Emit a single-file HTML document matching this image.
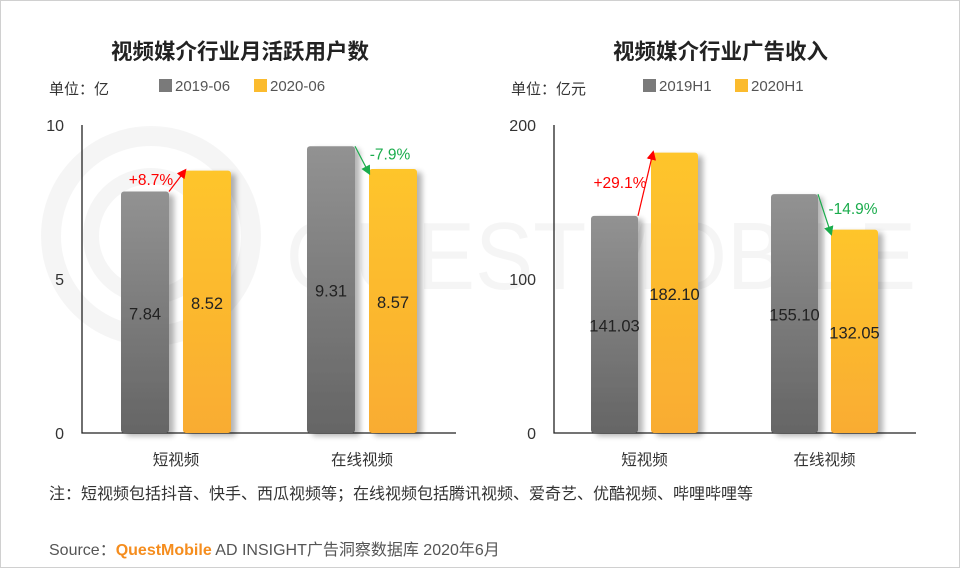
<!DOCTYPE html>
<html><head><meta charset="utf-8"><style>
body{margin:0;background:#fff;}
#wrap{position:relative;width:958px;height:566px;border:1px solid #d0d0d0;overflow:hidden;font-family:"Liberation Sans","Noto Sans CJK SC",sans-serif;}
.t{position:absolute;white-space:nowrap;}
</style></head><body>
<div id="wrap">
<svg id="svg" width="958" height="566" style="position:absolute;left:0;top:0">
<defs>
<linearGradient id="gg" x1="0" y1="0" x2="0" y2="1"><stop offset="0" stop-color="#929292"/><stop offset="1" stop-color="#656565"/></linearGradient>
<linearGradient id="gy" x1="0" y1="0" x2="0" y2="1"><stop offset="0" stop-color="#fec52c"/><stop offset="1" stop-color="#f9ac31"/></linearGradient>
<filter id="sh" x="-20%" y="-5%" width="150%" height="110%"><feGaussianBlur in="SourceAlpha" stdDeviation="3"/><feOffset dx="5" dy="3"/><feComponentTransfer><feFuncA type="linear" slope="0.3"/></feComponentTransfer><feMerge><feMergeNode/><feMergeNode in="SourceGraphic"/></feMerge></filter>
<marker id="ar" markerWidth="8" markerHeight="8" refX="6" refY="4" orient="auto"><path d="M0,0L8,4L0,8z" fill="#f00"/></marker>
<marker id="ag" markerWidth="8" markerHeight="8" refX="6" refY="4" orient="auto"><path d="M0,0L8,4L0,8z" fill="#1aac4c"/></marker>
</defs>
<g opacity="0.035" fill="none" stroke="#000">
<circle cx="150" cy="235" r="100" stroke-width="20"/>
<circle cx="150" cy="235" r="60" stroke-width="16"/>
<text x="285" y="288" font-size="96" fill="#000" stroke="none" font-family="Liberation Sans" textLength="630" lengthAdjust="spacingAndGlyphs">QUESTMOBILE</text>
</g>
</svg>
<div class="t" style="left:110px;top:34px;font-size:21.5px;font-weight:bold;color:#222">视频媒介行业月活跃用户数</div>
<div class="t" style="left:612px;top:34px;font-size:21.5px;font-weight:bold;color:#222">视频媒介行业广告收入</div>
<div class="t" style="left:48px;top:77px;font-size:15px;color:#333">单位：亿</div>
<div class="t" style="left:158px;top:77px;font-size:15px;color:#555"><span style="display:inline-block;width:13px;height:13px;background:#7a7a7a;vertical-align:-1px;margin-right:3px"></span>2019-06</div>
<div class="t" style="left:253px;top:77px;font-size:15px;color:#555"><span style="display:inline-block;width:13px;height:13px;background:#fbbb2e;vertical-align:-1px;margin-right:3px"></span>2020-06</div>
<div class="t" style="left:510px;top:77px;font-size:15px;color:#333">单位：亿元</div>
<div class="t" style="left:642px;top:77px;font-size:15px;color:#555"><span style="display:inline-block;width:13px;height:13px;background:#7a7a7a;vertical-align:-1px;margin-right:3px"></span>2019H1</div>
<div class="t" style="left:734px;top:77px;font-size:15px;color:#555"><span style="display:inline-block;width:13px;height:13px;background:#fbbb2e;vertical-align:-1px;margin-right:3px"></span>2020H1</div>
<div class="t" style="left:48px;top:479px;font-size:16px;color:#333">注：短视频包括抖音、快手、西瓜视频等；在线视频包括腾讯视频、爱奇艺、优酷视频、哔哩哔哩等</div>
<div class="t" style="left:48px;top:535px;font-size:16px;color:#555">Source：<span style="color:#f58d1e;font-weight:bold">QuestMobile</span> AD INSIGHT广告洞察数据库 2020年6月</div>
</div>
<script>
const categories=["短视频","在线视频"];
const leftA=[7.84,9.31];
const leftB=[8.52,8.57];
const leftPct=["+8.7%","-7.9%"];
const leftTicks=[0,5,10];
const rightA=[141.03,155.10];
const rightB=[182.10,132.05];
const rightPct=["+29.1%","-14.9%"];
const rightTicks=[0,100,200];
const svg=document.getElementById('svg');
const NS='http://www.w3.org/2000/svg';
function mk(t,a,txt){const e=document.createElementNS(NS,t);for(const k in a)e.setAttribute(k,a[k]);if(txt!=null)e.textContent=txt;svg.appendChild(e);return e;}
function chart(p,A,B,pct,ticks,dec,name){
 const y0=432,y1=124,max=ticks[ticks.length-1];
 const y=v=>y0-(v/max)*(y0-y1);
 ticks.forEach(t=>{const e=mk('text',{x:p.ax-18,y:y(t)+6,'text-anchor':'end','font-size':16,fill:'#333'},t);
 
 });
 const ax=mk('path',{d:`M${p.ax},${y1}V${y0}H${p.end}`,stroke:'#222','stroke-width':1.3,fill:'none'});
 
 
 categories.forEach((c,i)=>{
  const gx=p.g[i],w=p.w,yx=gx+p.gap;
  [[A[i],gx,'url(#gg)','a'],[B[i],yx,'url(#gy)','b']].forEach(([v,x,f,s])=>{
   const r=mk('rect',{x:x,y:y(v),width:w,height:y0-y(v),fill:f,rx:3,filter:'url(#sh)'});
   
   
   const l=mk('text',{x:x+w/2,y:(y(v)+y0)/2+7,'text-anchor':'middle','font-size':16.5,fill:'#222'},v.toFixed(2));
   
   
  });
  const up=B[i]>A[i],col=up?'#f00':'#1aac4c';
  const ln=mk('line',{x1:gx+w,y1:y(A[i]),x2:yx+(up?2:0),y2:y(B[i])+(up?0:4),stroke:col,'stroke-width':1.2,'marker-end':up?'url(#ar)':'url(#ag)'});
  
  
  const px=up?gx+w-18:gx+w+35, py=up?(y(B[i])+y(A[i]))/2+4:(y(A[i])+y(B[i]))/2+2;
  const pt=mk('text',{x:px,y:py,'text-anchor':'middle','font-size':15.5,fill:col},pct[i]);
  
  
  const cl=mk('text',{x:(gx+yx+w)/2,y:464,'text-anchor':'middle','font-size':15.5,fill:'#333'},c);
  
  
 });
}
chart({ax:81,end:455,g:[120,306],w:48,gap:62},leftA,leftB,leftPct,leftTicks,2,'left');
chart({ax:553,end:915,g:[590,770],w:47,gap:60},rightA,rightB,rightPct,rightTicks,2,'right');
</script>
</body></html>
